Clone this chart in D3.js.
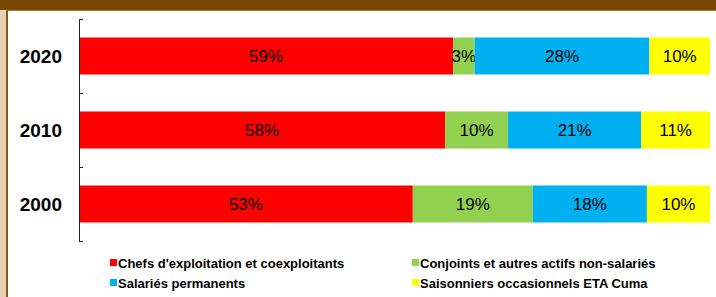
<!DOCTYPE html>
<html>
<head>
<meta charset="utf-8">
<script src="https://cdn.jsdelivr.net/npm/d3@7"></script>
<style>
  body { margin: 0; background: #fff; }
  svg { display: block; font-family: "Liberation Sans", Arial, sans-serif; }
</style>
</head>
<body>
<div id="chart"></div>
<script>
// data (percent of work)
var years = ["2020", "2010", "2000"];
var seriesNames = [
  "Chefs d'exploitation et coexploitants",
  "Conjoints et autres actifs non-salariés",
  "Salariés permanents",
  "Saisonniers occasionnels ETA Cuma"
];
var chefs = [59.3, 58.0, 52.9];
var conjoints = [3.4, 10.0, 19.0];
var salaries = [27.7, 21.1, 18.1];
var saisonniers = [9.6, 10.9, 10.0];
var colors = ["#ff0000", "#92d050", "#00b0f0", "#ffff00"];

var svgWidth = 716;
var svgHeight = 297;

var svg = d3.select("#chart")
  .append("svg")
  .attr("width", svgWidth)
  .attr("height", svgHeight);

// frame: brown header band + textured left strip
svg.append("rect").attr("x", 0).attr("y", 0).attr("width", svgWidth).attr("height", svgHeight).attr("fill", "#fff");
svg.append("rect").attr("x", 0).attr("y", 0).attr("width", 6).attr("height", svgHeight).attr("fill", "#e6d3b6");
svg.append("rect").attr("x", 6).attr("y", 10).attr("width", 2).attr("height", svgHeight).attr("fill", "#8a5a1c");
svg.append("rect").attr("x", 0).attr("y", 0).attr("width", svgWidth).attr("height", 10).attr("fill", "#7a4700");
svg.append("rect").attr("x", 6).attr("y", 10).attr("width", svgWidth).attr("height", 1).attr("fill", "#a57a3c");

// scales
var x = d3.scaleLinear().domain([0, 100]).range([79, 710]);
var y = d3.scaleBand().domain(years).range([19, 241]).paddingInner(0.5).paddingOuter(0.25);
var yTicks = d3.scaleLinear().domain([0, years.length]).range([19, 241]);

// stacked data
var rows = years.map(function(yr, i) {
  return { year: yr, chefs: chefs[i], conjoints: conjoints[i], salaries: salaries[i], saisonniers: saisonniers[i] };
});
var keys = ["chefs", "conjoints", "salaries", "saisonniers"];
var stacked = d3.stack().keys(keys)(rows);

var groups = svg.selectAll("g.series")
  .data(stacked)
  .enter()
  .append("g")
  .attr("class", "series")
  .attr("fill", (d, i) => colors[i]);

groups.selectAll("rect")
  .data(d => d)
  .enter()
  .append("rect")
  .attr("x", d => x(d[0]))
  .attr("y", d => y(d.data.year))
  .attr("width", d => x(d[1]) - x(d[0]))
  .attr("height", y.bandwidth());

// value labels
groups.selectAll("text")
  .data(d => d)
  .enter()
  .append("text")
  .attr("x", d => (x(d[0]) + x(d[1])) / 2)
  .attr("y", d => y(d.data.year) + y.bandwidth() / 2)
  .attr("dy", "0.35em")
  .attr("text-anchor", "middle")
  .attr("font-size", "17px")
  .attr("fill", "#000")
  .text(d => Math.round(d[1] - d[0]) + "%");

// vertical category axis
var axis = svg.append("g")
  .attr("transform", "translate(79,0)")
  .call(d3.axisRight(yTicks).tickValues([0, 1, 2, 3]).tickSize(4).tickSizeOuter(0).tickFormat(""));
axis.selectAll("path, line").attr("stroke", "#222");

// year labels
svg.selectAll("text.year")
  .data(years)
  .enter()
  .append("text")
  .attr("class", "year")
  .attr("x", 62)
  .attr("y", d => y(d) + y.bandwidth() / 2)
  .attr("dy", "0.35em")
  .attr("text-anchor", "end")
  .attr("font-size", "19px")
  .attr("font-weight", "bold")
  .text(d => d);

// legend
var legendPos = [[110, 263], [412, 263], [110, 283], [412, 283]];
var legend = svg.selectAll("g.legend")
  .data(seriesNames)
  .enter()
  .append("g")
  .attr("class", "legend")
  .attr("transform", (d, i) => `translate(${legendPos[i][0]}, ${legendPos[i][1]})`);

legend.append("rect")
  .attr("x", 0)
  .attr("y", -4)
  .attr("width", 7)
  .attr("height", 7)
  .attr("fill", (d, i) => colors[i]);

legend.append("text")
  .attr("x", 8)
  .attr("y", 0)
  .attr("dy", "0.35em")
  .attr("font-size", "13px")
  .attr("font-weight", "bold")
  .text(d => d);
</script>
</body>
</html>
